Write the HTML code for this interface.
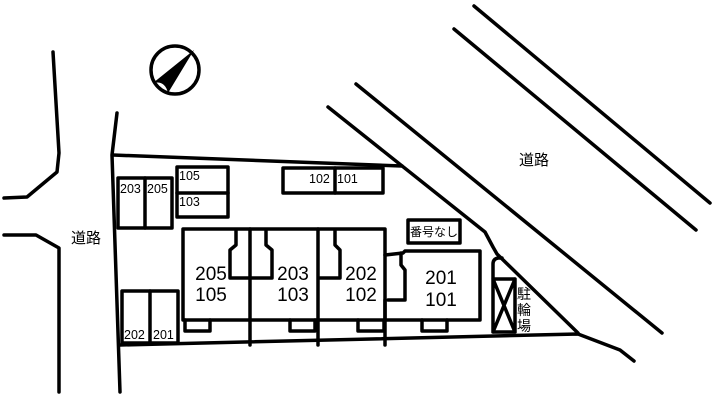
<!DOCTYPE html>
<html><head><meta charset="utf-8"><style>
html,body{margin:0;padding:0;background:#fff;}
svg{display:block;}
text{font-family:"Liberation Sans","Noto Sans CJK JP",sans-serif;fill:#000;}
</style></head><body>
<svg width="714" height="400" viewBox="0 0 714 400" xmlns="http://www.w3.org/2000/svg">
<g fill="none" stroke="#000" stroke-width="3.5" stroke-linejoin="round" stroke-linecap="round">
<polyline points="53,52 59,153 57,172 27,197 4,198"/>
<polyline points="4,235 36,235 59,248 59,392"/>
<polyline points="117,113 112,155 120,392"/>
<line x1="113" y1="155" x2="402" y2="166"/>
<polyline points="328,107 485,232 493,247 497,254 578,333"/>
<line x1="356" y1="84" x2="662" y2="333"/>
<line x1="454" y1="29" x2="696" y2="230"/>
<line x1="474" y1="6" x2="710" y2="203"/>
<polyline points="120,345 578,334 620,350 634,361"/>
<rect x="118" y="178" width="54" height="50"/>
<line x1="145" y1="178" x2="145" y2="228"/>
<rect x="177" y="167" width="51" height="50"/>
<line x1="177" y1="193" x2="228" y2="193"/>
<rect x="283" y="168" width="100" height="25"/>
<line x1="335" y1="168" x2="335" y2="193"/>
<rect x="122" y="291" width="56" height="52"/>
<line x1="150" y1="291" x2="150" y2="343"/>
<rect x="183" y="229" width="202" height="91"/>
<line x1="250" y1="229" x2="250" y2="345"/>
<line x1="318" y1="229" x2="318" y2="345"/>
<line x1="385" y1="300" x2="385" y2="345"/>
<polyline points="236,231 236,245 230,250 230,278 250,278"/>
<polyline points="266,231 266,245 272,250 272,278 250,278"/>
<polyline points="335,231 335,245 340,250 340,278 320,278"/>
<polyline points="385,255 403,253 405,251 480,251 480,320 385,320"/>
<polyline points="401,253 401,265 405,270 405,300 388,300"/>
<polyline points="185,320 185,331 210,331 210,320"/>
<polyline points="290,320 290,331 315,331 315,320"/>
<polyline points="358,320 358,331 384,331 384,320"/>
<polyline points="422,320 422,331 447,331 447,320"/>
<rect x="408" y="220" width="52" height="23"/>
<path d="M493,332 L493,264 Q493,259 498,258 L502,258 M493,279 L515,279 L515,332 L493,332 M493,279 L515,332 M515,279 L493,332"/>
<circle cx="175" cy="70" r="24"/>
</g>
<path d="M194,50 L153,83 Q165,80 168,93 Z" fill="#000"/>
<g font-size="12.5">
<text x="120" y="193">203</text>
<text x="147" y="193">205</text>
<text x="179" y="180">105</text>
<text x="179" y="206">103</text>
<text x="309" y="183">102</text>
<text x="337" y="183">101</text>
<text x="124" y="339">202</text>
<text x="153" y="339">201</text>
</g>
<g font-size="19" text-anchor="middle">
<text x="211" y="280">205</text>
<text x="211" y="301">105</text>
<text x="293" y="280">203</text>
<text x="293" y="301">103</text>
<text x="361" y="280">202</text>
<text x="361" y="301">102</text>
<text x="441" y="284">201</text>
<text x="441" y="306">101</text>
</g>
<text x="434" y="236" font-size="12" text-anchor="middle">番号なし</text>
<text x="71" y="243" font-size="15">道路</text>
<text x="519" y="165" font-size="15">道路</text>
<g font-size="14">
<text x="517" y="299">駐</text>
<text x="517" y="315">輪</text>
<text x="517" y="331">場</text>
</g>
</svg>
</body></html>
